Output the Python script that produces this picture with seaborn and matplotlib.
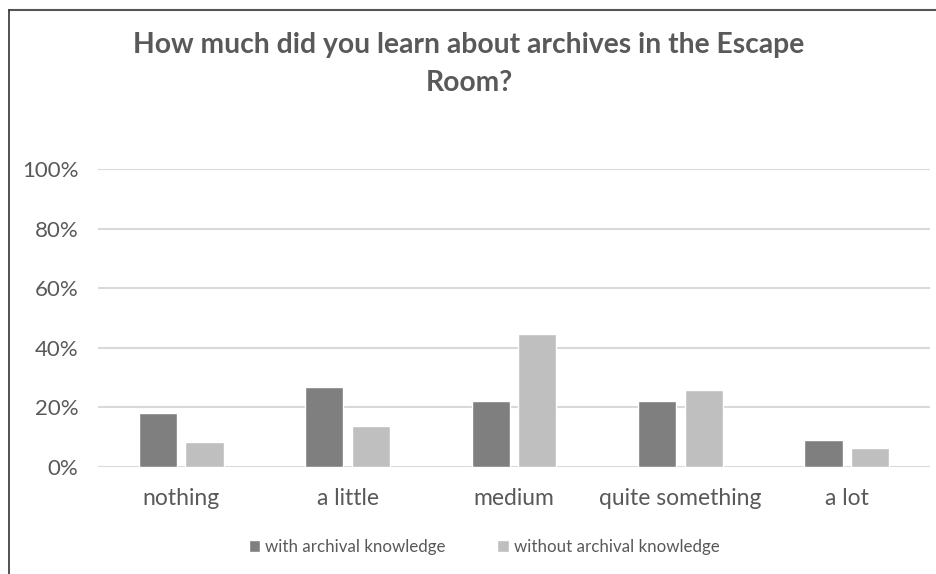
import matplotlib
matplotlib.use("Agg")
import matplotlib.pyplot as plt
import seaborn as sns
import pandas as pd
from matplotlib.lines import Line2D
from matplotlib.ticker import PercentFormatter

categories = ["nothing", "a little", "medium", "quite something", "a lot"]
with_knowledge = [18.0, 27.0, 22.3, 22.3, 9.0]
without_knowledge = [8.5, 13.7, 44.8, 25.8, 6.5]
series_names = ["with archival knowledge", "without archival knowledge"]
title = "How much did you learn about archives in the Escape\nRoom?"

df = pd.DataFrame({
    "category": categories * 2,
    "value": with_knowledge + without_knowledge,
    "series": [series_names[0]] * 5 + [series_names[1]] * 5,
})

sns.set_theme(style="white")
plt.rcParams["font.family"] = ["Lato", "DejaVu Sans"]

fig = plt.figure(figsize=(9.36, 5.74), dpi=100)
ax = fig.add_axes([0.1047, 0.1864, 0.889, 0.519])

sns.barplot(data=df, x="category", y="value", hue="series", order=categories,
            hue_order=series_names, palette=["#7f7f7f", "#bfbfbf"],
            width=0.56, gap=0.18, ax=ax, legend=True, saturation=1)

ax.set_ylim(0, 100)
ax.set_xlim(-0.5, 4.5)
ax.set_yticks([0, 20, 40, 60, 80, 100])
ax.yaxis.set_major_formatter(PercentFormatter(decimals=0))
ax.yaxis.grid(True, color="#d9d9d9", linewidth=1.5)
ax.set_axisbelow(True)
for s in ax.spines.values():
    s.set_visible(False)
ax.set_xlabel("")
ax.set_ylabel("")
ax.tick_params(axis="y", length=0, pad=14, labelsize=16, labelcolor="#595959")
ax.tick_params(axis="x", length=0, pad=15, labelsize=16.5, labelcolor="#595959")

handles, labels = ax.get_legend_handles_labels()
ax.get_legend().remove()
fig.legend(handles, labels, loc="center", bbox_to_anchor=(484 / 936, 1 - 547 / 574),
           ncol=2, frameon=False, fontsize=12.2, handlelength=0.7, handleheight=0.7,
           handletextpad=0.3, columnspacing=3.0, labelcolor="#595959")

fig.text(469 / 936, 1 - 64 / 574, title, ha="center", va="center", fontsize=20.3,
         fontweight="bold", color="#595959", linespacing=1.6)

fig.add_artist(Line2D([9 / 936, 1.0], [1 - 10 / 574] * 2, color="#555555", linewidth=1.5))
fig.add_artist(Line2D([9 / 936] * 2, [0, 1 - 10 / 574], color="#333333", linewidth=1.2))

fig.savefig("out.png", dpi=100)
